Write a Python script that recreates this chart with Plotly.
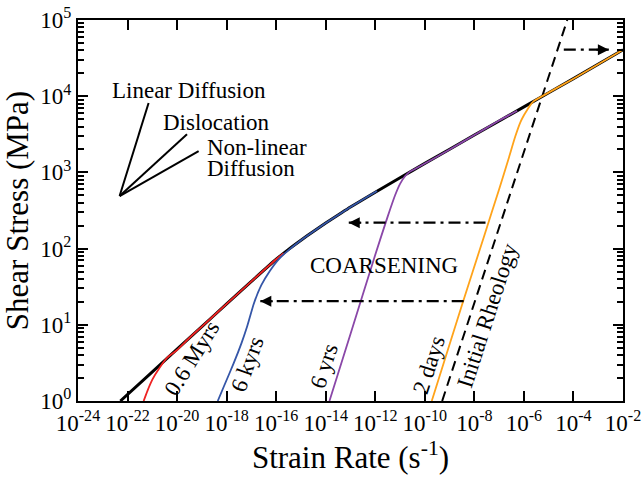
import plotly.graph_objects as go

# ---- data (log10 strain rate [1/s], log10 shear stress [MPa]) ----
black_log_rate = [-22.29, -21.0, -20.0, -19.0, -18.0, -17.0, -16.0, -15.5, -15.0, -14.5,
                  -14.0, -13.5, -13.0, -12.0, -11.0, -10.0, -8.0, -6.0, -4.0, -2.0]
black_log_stress = [0.0, 0.383, 0.68, 0.977, 1.274, 1.57, 1.86, 1.99, 2.11, 2.225,
                    2.335, 2.44, 2.545, 2.74, 2.93, 3.118, 3.49, 3.86, 4.23, 4.61]

myr_log_rate = [-21.35, -21.2, -21.0, -20.7, -20.4, -20.0, -19.5, -19.0, -18.0, -17.0, -16.0, -15.7]
myr_log_stress = [0.0, 0.13, 0.28, 0.44, 0.57, 0.67, 0.83, 0.977, 1.274, 1.57, 1.86, 1.94]

kyr_log_rate = [-18.36, -18.1, -17.71, -17.4, -17.17, -16.9, -16.6, -16.25, -15.9, -15.5,
                -15.0, -14.5, -14.0, -13.5, -13.0, -12.5, -11.93]
kyr_log_stress = [0.0, 0.2, 0.50, 0.76, 0.98, 1.28, 1.52, 1.71, 1.86, 1.98,
                  2.11, 2.225, 2.335, 2.44, 2.545, 2.645, 2.755]

yr_log_rate = [-13.85, -13.0, -12.0, -11.5, -11.2, -11.0, -10.8, -10.6, -10.31, -9.0, -8.0, -7.0, -6.27]
yr_log_stress = [0.0, 0.88, 1.92, 2.42, 2.70, 2.85, 2.95, 3.01, 3.06, 3.30, 3.49, 3.68, 3.81]

day_log_rate = [-9.72, -8.5, -7.62, -7.0, -6.6, -6.35, -6.14, -6.0, -5.87, -5.75, -5.6, -5.4, -4.0, -2.0]
day_log_stress = [0.0, 1.26, 2.15, 2.78, 3.20, 3.47, 3.66, 3.75, 3.82, 3.88, 3.935, 3.975, 4.23, 4.61]

init_log_rate = [-9.30, -4.25]
init_log_stress = [0.0, 5.0]

# slope guide (origin -> end of each mechanism line)
guide_origin = (-22.32, 2.69)
guide_ends_rate = [-21.15, -19.60, -19.13]
guide_ends_stress = [3.91, 3.50, 3.28]

# coarsening arrows: (start log rate, tip log rate, log stress)
arrow_start = [-4.39, -7.55, -8.43]
arrow_tip = [-2.57, -13.07, -16.64]
arrow_level = [4.61, 2.34, 1.31]

x_tick_exp = [-24, -22, -20, -18, -16, -14, -12, -10, -8, -6, -4, -2]
x_tick_text = ["10<sup>%d</sup>" % e for e in x_tick_exp]
y_tick_exp = [0, 1, 2, 3, 4, 5]
y_tick_text = ["10<sup>%d</sup>" % e for e in y_tick_exp]


def lin(v):
    return [10 ** a for a in v]


FONT = "Liberation Serif"
fig = go.Figure()

# black master curve
fig.add_trace(go.Scatter(x=lin(black_log_rate), y=lin(black_log_stress), mode="lines",
                         line=dict(color="black", width=3, shape="spline", smoothing=0.6),
                         showlegend=False, hoverinfo="skip"))
# dashed initial rheology
fig.add_trace(go.Scatter(x=lin(init_log_rate), y=lin(init_log_stress), mode="lines",
                         line=dict(color="black", width=2, dash="10px,6px"),
                         showlegend=False, hoverinfo="skip"))

for xs, ys, col in [(myr_log_rate, myr_log_stress, "#ee2222"),
                    (kyr_log_rate, kyr_log_stress, "#3556a8"),
                    (yr_log_rate, yr_log_stress, "#8a47a8"),
                    (day_log_rate, day_log_stress, "#ffa31a")]:
    fig.add_trace(go.Scatter(x=lin(xs), y=lin(ys), mode="lines",
                             line=dict(color=col, width=1.8, shape="spline", smoothing=0.6),
                             showlegend=False, hoverinfo="skip"))

# slope guide lines
for ex, ey in zip(guide_ends_rate, guide_ends_stress):
    fig.add_trace(go.Scatter(x=lin([guide_origin[0], ex]), y=lin([guide_origin[1], ey]),
                             mode="lines", line=dict(color="black", width=2),
                             showlegend=False, hoverinfo="skip"))

# dash-dot arrows
annotations = []
for s, t, lv in zip(arrow_start, arrow_tip, arrow_level):
    fig.add_trace(go.Scatter(x=lin([s, t]), y=lin([lv, lv]), mode="lines",
                             line=dict(color="black", width=2.2, dash="12px,5px,3px,5px"),
                             showlegend=False, hoverinfo="skip"))
    annotations.append(dict(x=t, y=lv, xref="x", yref="y", text="", showarrow=True,
                            ax=(14 if t < s else -14), ay=0, arrowhead=2, arrowsize=1.1,
                            arrowwidth=2, arrowcolor="black", standoff=0))

TF = dict(family=FONT, size=23, color="black")
texts = [
    ("Linear Diffusion", -19.50, 4.08, 0, "center"),
    ("Dislocation", -18.41, 3.65, 0, "center"),
    ("Non-linear", -18.86, 3.33, 0, "left"),
    ("Diffusion", -18.86, 3.045, 0, "left"),
    ("COARSENING", -11.63, 1.777, 0, "center"),
    ("0.6 Myrs", -19.42, 0.564, -58, "center"),
    ("6 kyrs", -17.14, 0.486, -70, "center"),
    ("6 yrs", -14.09, 0.459, -72, "center"),
    ("2 days", -9.85, 0.472, -72, "center"),
    ("Initial Rheology", -7.45, 1.13, -72, "center"),
]
for txt, x, y, ang, xa in texts:
    annotations.append(dict(x=x, y=y, xref="x", yref="y", text=txt, showarrow=False,
                            textangle=ang, xanchor=xa, yanchor="middle", font=TF))

fig.update_layout(
    width=644, height=481,
    margin=dict(l=78, r=21, t=20, b=80),
    paper_bgcolor="white", plot_bgcolor="white",
    font=dict(family=FONT, color="black"),
    annotations=annotations,
    showlegend=False,
)
fig.update_xaxes(
    type="log", range=[-24, -2], automargin=False, ticklabeloverflow="allow",
    tickmode="array", tickvals=[10 ** e for e in x_tick_exp], ticktext=x_tick_text,
    ticks="inside", ticklen=10, tickwidth=2, tickcolor="black",
    showline=True, linewidth=2, linecolor="black", mirror="ticks",
    showgrid=False, zeroline=False,
    tickfont=dict(family=FONT, size=23, color="black"),
    title=dict(text="Strain Rate (s<sup>-1</sup>)", font=dict(family=FONT, size=31, color="black"), standoff=6),
)
minor_vals = [m * 10 ** k for k in range(0, 5) for m in range(2, 10)]
fig.update_yaxes(
    type="log", range=[0, 5], automargin=False, ticklabeloverflow="allow",
    tickmode="array", tickvals=[10 ** e for e in y_tick_exp], ticktext=y_tick_text,
    ticks="inside", ticklen=10, tickwidth=2, tickcolor="black",
    minor=dict(ticks="inside", ticklen=6, tickwidth=1.5, tickcolor="black", tickmode="array", tickvals=minor_vals),
    showline=True, linewidth=2, linecolor="black", mirror="ticks",
    showgrid=False, zeroline=False,
    tickfont=dict(family=FONT, size=23, color="black"),
    title=dict(text="Shear Stress (MPa)", font=dict(family=FONT, size=31, color="black"), standoff=12),
)

# remove the default 8px page margin so the figure fills the 644x481 window exactly
fig.write_html("out.html", config={"displayModeBar": False},
               post_script="document.body.style.margin='0px';")
